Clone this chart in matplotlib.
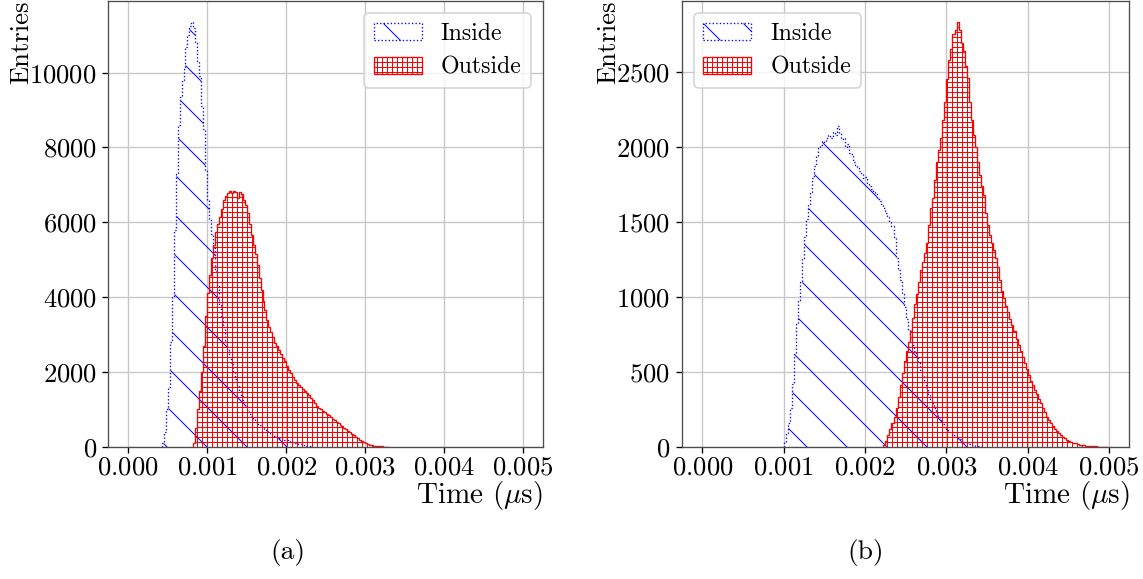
import matplotlib
matplotlib.use('Agg')
import matplotlib.pyplot as plt
import numpy as np

plt.rcParams['font.family'] = 'cmr10'
plt.rcParams['mathtext.fontset'] = 'cm'
plt.rcParams['axes.formatter.use_mathtext'] = True
plt.rcParams['hatch.linewidth'] = 0.6

# histogram bin width in us
bin_width = 0.000025

# (a) inside: counts per bin, first bin starts at inside_a_start
inside_a_start = 0.000425
inside_a = [100, 400, 1000, 1600, 2800, 4000, 5800, 7300, 8600, 9350, 9800, 10100,
            10700, 11000, 11250, 11350, 11200, 10800, 10300, 9900, 9100, 8500, 7400,
            6600, 6100, 5700, 5300, 4700, 4300, 3800, 3450, 3200, 2800, 2600, 2400,
            2200, 2000, 1800, 1650, 1500, 1350, 1200, 1080, 980, 880, 800, 730, 670,
            620, 580, 540, 500, 460, 420, 390, 350, 320, 290, 260, 240, 220, 200, 185,
            170, 150, 135, 120, 110, 95, 80, 65, 50, 35, 25, 15, 8]

outside_a_start = 0.000825
outside_a = [100, 500, 1000, 1500, 2000, 2700, 3500, 4100, 4600, 5050, 5400, 5750,
             5950, 6150, 6350, 6600, 6700, 6780, 6850, 6780, 6850, 6800, 6650, 6820,
             6750, 6600, 6450, 6250, 5950, 5650, 5400, 5150, 4850, 4500, 4200, 3900,
             3650, 3380, 3200, 3060, 2920, 2780, 2680, 2580, 2480, 2380, 2280, 2160,
             2060, 1960, 1860, 1780, 1700, 1650, 1600, 1550, 1490, 1440, 1380, 1310,
             1240, 1170, 1100, 1040, 1000, 960, 920, 880, 840, 790, 750, 710, 670,
             630, 590, 550, 510, 470, 430, 390, 350, 310, 270, 230, 190, 160, 130,
             100, 75, 55, 40, 28, 20, 14, 10, 7, 5, 3, 2]

# (b)
inside_b_start = 0.001
inside_b = [30, 90, 160, 260, 420, 620, 820, 980, 1100, 1260, 1400, 1520, 1620, 1700,
            1790, 1870, 1940, 1990, 2010, 2040, 2030, 2060, 2080, 2060, 2100, 2080,
            2140, 2090, 2050, 2060, 2000, 2020, 1960, 1950, 1900, 1880, 1860, 1840,
            1820, 1790, 1800, 1760, 1740, 1720, 1700, 1690, 1660, 1640, 1620, 1590,
            1560, 1530, 1500, 1470, 1400, 1260, 1180, 1110, 1020, 930, 850, 780, 730,
            680, 640, 600, 560, 510, 470, 430, 390, 350, 320, 290, 260, 230, 200, 175,
            150, 130, 115, 100, 88, 76, 66, 57, 48, 40, 33, 27, 22, 17, 13, 10, 7, 5,
            3, 2]

outside_b_start = 0.002225
outside_b = [10, 40, 80, 120, 160, 200, 260, 330, 410, 490, 570, 640, 700, 770, 860,
             950, 1020, 1100, 1180, 1230, 1290, 1360, 1480, 1590, 1660, 1780, 1900,
             1980, 2060, 2180, 2300, 2450, 2580, 2650, 2750, 2780, 2830, 2780, 2690,
             2640, 2540, 2460, 2300, 2180, 2080, 2000, 1900, 1810, 1740, 1680, 1560,
             1480, 1410, 1360, 1310, 1260, 1200, 1110, 1040, 990, 940, 900, 850, 810,
             770, 720, 680, 640, 600, 560, 520, 480, 440, 410, 380, 350, 320, 290, 260,
             230, 200, 180, 160, 140, 120, 105, 90, 78, 66, 56, 47, 40, 33, 27, 22, 17,
             13, 10, 8, 6, 5, 4, 3, 2, 2, 1, 1, 1, 1, 1, 1]

x_ticks = [0.000, 0.001, 0.002, 0.003, 0.004, 0.005]


def hist_step(ax, start, counts, **kw):
    n = len(counts)
    edges = start + bin_width * np.arange(n + 1)
    centers = start + bin_width * (np.arange(n) + 0.5)
    ax.hist(centers, bins=edges, weights=counts, histtype='step', **kw)


def panel(ax, ins_start, ins, out_start, out, legend_loc):
    ax.grid(True, color='0.78', lw=0.8)
    ax.set_axisbelow(True)
    hist_step(ax, ins_start, ins, edgecolor='blue', linestyle=':', linewidth=0.8,
              hatch='\\', label='Inside')
    hist_step(ax, out_start, out, edgecolor='red', linewidth=0.8,
              hatch='++++', label='Outside')
    ax.set_xticks(x_ticks)
    ax.set_xlim(-0.00025, 0.00525)
    ax.set_ylim(bottom=0)
    ax.tick_params(labelsize=16)
    ax.tick_params(axis='x', pad=1.8)
    ax.set_xlabel(r'Time ($\mu$s)', loc='right', fontsize=17.5, labelpad=0)
    ax.set_ylabel('Entries', loc='top', fontsize=16, labelpad=-2.5)
    for s in ax.spines.values():
        s.set_edgecolor('0.3')
    ax.legend(loc=legend_loc, fontsize=14.3, handlelength=2.0)


fig = plt.figure(figsize=(1143 / 120, 579 / 120), dpi=120)
ax1 = fig.add_axes([0.0949, 0.2285, 0.3801, 0.7698])
ax2 = fig.add_axes([0.5967, 0.2285, 0.3914, 0.7698])

panel(ax1, inside_a_start, inside_a, outside_a_start, outside_a, 'upper right')
panel(ax2, inside_b_start, inside_b, outside_b_start, outside_b, 'upper left')

fig.text(0.252, 0.045, '(a)', ha='center', va='center', fontsize=16.5)
fig.text(0.7577, 0.045, '(b)', ha='center', va='center', fontsize=16.5)

fig.savefig('out.png', dpi=120)
